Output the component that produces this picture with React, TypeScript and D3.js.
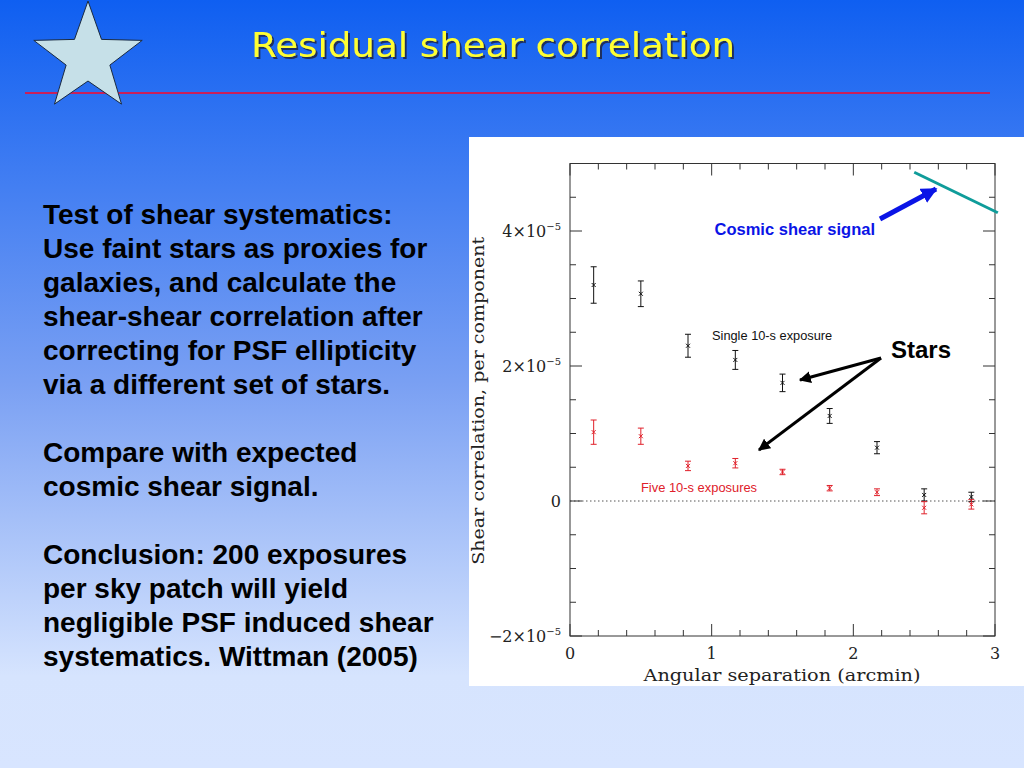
import React from 'react';
import * as d3 from 'd3';

// binned angular separations (arcmin)
const separations = [0.167, 0.5, 0.833, 1.167, 1.5, 1.833, 2.167, 2.5, 2.833];
// shear correlation, units of 1e-5
const singleExposure = [3.2, 3.07, 2.3, 2.09, 1.75, 1.26, 0.79, 0.09, 0.06];
const singleErr = [0.27, 0.19, 0.17, 0.14, 0.13, 0.11, 0.09, 0.09, 0.07];
const fiveExposures = [1.02, 0.96, 0.52, 0.56, 0.43, 0.19, 0.13, -0.1, -0.05];
const fiveErr = [0.18, 0.12, 0.07, 0.07, 0.04, 0.04, 0.05, 0.09, 0.07];
// expected cosmic shear signal (arcmin, 1e-5)
const cosmicX = [2.43, 3.02];
const cosmicY = [4.87, 4.27];

const xMajor = [0, 1, 2, 3];
const yMajor = [-2, 0, 2, 4];

const bodyLines = [
  'Test of shear systematics:',
  'Use faint stars as proxies for',
  'galaxies, and calculate the',
  'shear-shear correlation after',
  'correcting for PSF ellipticity',
  'via a different set of stars.',
  '',
  'Compare with expected',
  'cosmic shear signal.',
  '',
  'Conclusion: 200 exposures',
  'per sky patch will yield',
  'negligible PSF induced shear',
  'systematics. Wittman (2005)',
];

const W = 1024;
const H = 768;

const x = d3.scaleLinear().domain([0, 3]).range([570, 995]);
const y = d3.scaleLinear().domain([-2, 5]).range([636, 163.5]);

function starPath(cx: number, cy: number, ro: number, ri: number) {
  const pts: [number, number][] = [];
  for (let i = 0; i < 10; i++) {
    const a = -Math.PI / 2 + (i * Math.PI) / 5;
    const r = i % 2 === 0 ? ro : ri;
    pts.push([cx + r * Math.cos(a), cy + r * Math.sin(a)]);
  }
  return 'M' + pts.map((p) => p.join(',')).join('L') + 'Z';
}

function Series({ vals, errs, color }: { vals: number[]; errs: number[]; color: string }) {
  return (
    <g stroke={color} strokeWidth={1}>
      {separations.map((s, i) => {
        const cx = x(s);
        const cy = y(vals[i]);
        const y0 = y(vals[i] - errs[i]);
        const y1 = y(vals[i] + errs[i]);
        return (
          <g key={i}>
            <line x1={cx} x2={cx} y1={y0} y2={y1} />
            <line x1={cx - 3} x2={cx + 3} y1={y0} y2={y0} />
            <line x1={cx - 3} x2={cx + 3} y1={y1} y2={y1} />
            <line x1={cx - 2} x2={cx + 2} y1={cy - 2} y2={cy + 2} />
            <line x1={cx - 2} x2={cx + 2} y1={cy + 2} y2={cy - 2} />
          </g>
        );
      })}
    </g>
  );
}

export default function App() {
  const [x0, x1] = x.range();
  const [yb, yt] = y.range();
  const xMinor = d3.range(0, 3.0001, 0.2);
  const yMinor = d3.range(-2, 5.0001, 0.5);
  const isMajorX = (v: number) => Math.abs(v - Math.round(v)) < 1e-6;
  const isMajorY = (v: number) => Math.abs(v / 2 - Math.round(v / 2)) < 1e-6;
  const cosmicLine = d3.line<number>().x((_, i) => x(cosmicX[i])).y((d) => y(d))(cosmicY) || '';
  const tickFont = "'DejaVu Serif', serif";

  return (
    <svg width={W} height={H} style={{ position: 'absolute', left: 0, top: 0 }}>
      <defs>
        <linearGradient id="bg" x1="0" y1="0" x2="0" y2="1">
          <stop offset="0" stopColor="#0f5ff1" />
          <stop offset="0.5" stopColor="#7aa0f3" />
          <stop offset="0.88" stopColor="#d6e4fe" />
          <stop offset="1" stopColor="#d8e5ff" />
        </linearGradient>
        <marker id="arrBlack" viewBox="0 0 10 10" refX="9" refY="5" markerWidth="4" markerHeight="4" orient="auto">
          <path d="M0,0L10,5L0,10Z" fill="#000" />
        </marker>
        <marker id="arrBlue" viewBox="0 0 10 10" refX="9" refY="5" markerWidth="3.2" markerHeight="3.2" orient="auto">
          <path d="M0,0L10,5L0,10Z" fill="#0a14e6" />
        </marker>
        <filter id="shadow" x="-5%" y="-20%" width="110%" height="140%">
          <feDropShadow dx="2" dy="2" stdDeviation="0.5" floodColor="#1a2a50" floodOpacity="0.9" />
        </filter>
      </defs>
      <rect width={W} height={H} fill="url(#bg)" />

      {/* header */}
      <line x1={25} x2={990} y1={93} y2={93} stroke="#c8205a" strokeWidth={2} />
      <path d={starPath(88, 58, 57, 23)} fill="#c6e0e8" stroke="#1a2a40" strokeWidth={1} />
      <text
        x={493}
        y={57}
        textAnchor="middle"
        fontFamily="'DejaVu Sans', sans-serif"
        fontSize={34}
        fill="#ffff33"
        filter="url(#shadow)"
        textLength={484}
        lengthAdjust="spacingAndGlyphs"
      >
        Residual shear correlation
      </text>

      {/* body text */}
      <g fontFamily="'Liberation Sans', Arial, sans-serif" fontWeight="bold" fontSize={28} fill="#000">
        {bodyLines.map((t, i) => (
          <text key={i} x={43} y={224 + i * 34}>
            {t}
          </text>
        ))}
      </g>

      {/* plot panel */}
      <rect x={469} y={137} width={555} height={549} fill="#fff" />
      <line x1={x0} x2={x1} y1={y(0)} y2={y(0)} stroke="#555" strokeWidth={1} strokeDasharray="1.5,2.5" />
      <g stroke="#333" strokeWidth={1} fill="none">
        <rect x={x0} y={yt} width={x1 - x0} height={yb - yt} />
        {xMinor.map((v, i) => {
          const L = isMajorX(v) ? 12 : 6;
          return (
            <g key={'xt' + i}>
              <line x1={x(v)} x2={x(v)} y1={yb} y2={yb - L} />
              <line x1={x(v)} x2={x(v)} y1={yt} y2={yt + L} />
            </g>
          );
        })}
        {yMinor.map((v, i) => {
          const L = isMajorY(v) ? 12 : 6;
          return (
            <g key={'yt' + i}>
              <line x1={x0} x2={x0 + L} y1={y(v)} y2={y(v)} />
              <line x1={x1} x2={x1 - L} y1={y(v)} y2={y(v)} />
            </g>
          );
        })}
      </g>
      <g fontFamily={tickFont} fontSize={16} fill="#222">
        {xMajor.map((v) => (
          <text key={'xl' + v} x={x(v)} y={659} textAnchor="middle">
            {v}
          </text>
        ))}
        {yMajor.map((v) => (
          <text key={'yl' + v} x={561} y={y(v) + 6} textAnchor="end">
            {v === 0 ? (
              '0'
            ) : (
              <>
                {(v < 0 ? '\u2212' : '') + Math.abs(v) + '\u00d710'}
                <tspan fontSize={10} dy={-7}>
                  {'\u22125'}
                </tspan>
              </>
            )}
          </text>
        ))}
        <text x={782} y={681} textAnchor="middle" textLength={277} lengthAdjust="spacingAndGlyphs">
          Angular separation (arcmin)
        </text>
        <text
          transform={`translate(484,${(yt + yb) / 2 + 1}) rotate(-90)`}
          textAnchor="middle"
          textLength={328}
          lengthAdjust="spacingAndGlyphs"
        >
          Shear correlation, per component
        </text>
      </g>

      <Series vals={singleExposure} errs={singleErr} color="#111" />
      <Series vals={fiveExposures} errs={fiveErr} color="#e0202a" />

      <path d={cosmicLine} stroke="#0f9c9a" strokeWidth={3} fill="none" />

      {/* annotations */}
      <g fontFamily="'Liberation Sans', Arial, sans-serif">
        <text x={875} y={235} textAnchor="end" fontSize={16.5} fontWeight="bold" fill="#0a14e6">
          Cosmic shear signal
        </text>
        <text x={712} y={340} fontSize={12.8} fill="#111">
          Single 10-s exposure
        </text>
        <text x={641} y={492} fontSize={12.9} fill="#e0202a">
          Five 10-s exposures
        </text>
        <text x={891} y={358} fontSize={24} fontWeight="bold" fill="#000">
          Stars
        </text>
      </g>
      <line x1={880} y1={219} x2={936} y2={189} stroke="#0a14e6" strokeWidth={5} markerEnd="url(#arrBlue)" />
      <line x1={881} y1={358} x2={800} y2={380} stroke="#000" strokeWidth={3} markerEnd="url(#arrBlack)" />
      <line x1={881} y1={358} x2={759} y2={450} stroke="#000" strokeWidth={3} markerEnd="url(#arrBlack)" />
    </svg>
  );
}
